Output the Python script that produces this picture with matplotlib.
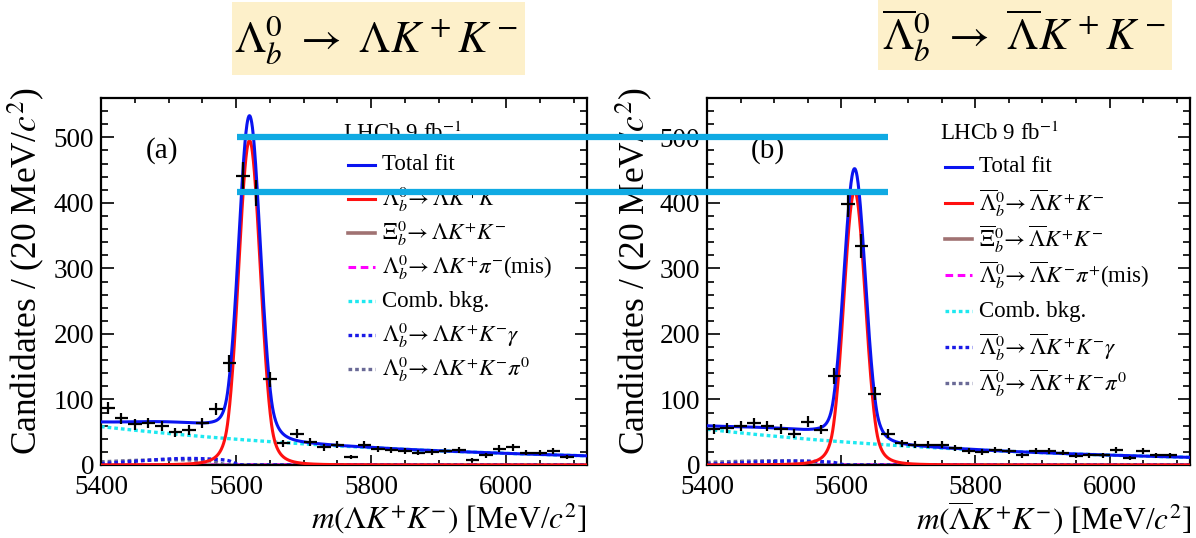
import math
import numpy as np
import matplotlib
matplotlib.use("Agg")
import matplotlib.pyplot as plt
from matplotlib.lines import Line2D
from matplotlib.patches import Rectangle
from matplotlib.ticker import MultipleLocator

plt.rcParams.update({
    "font.family": ["Liberation Serif", "DejaVu Serif"],
    "mathtext.fontset": "stix",
})

# ---------------------------------------------------------------- data
mass_bins = [5410, 5430, 5450, 5470, 5490, 5510, 5530, 5550, 5570, 5590,
             5610, 5630, 5650, 5670, 5690, 5710, 5730, 5750, 5770, 5790,
             5810, 5830, 5850, 5870, 5890, 5910, 5930, 5950, 5970, 5990,
             6010, 6030, 6050, 6070, 6090]
bin_half_width = 10

counts_lb = [87, 71, 62, 64, 59, 50, 53, 64, 86, 155,
             441, 415, 131, 33, 48, 35, 27, 31, 12, 31,
             24, 23, 22, 19, 20, 21, 23, 8, 15, 25,
             27, 19, 19, 21, 12]
counts_lbbar = [55, 57, 60, 64, 60, 55, 48, 66, 54, 136,
                399, 334, 109, 48, 33, 31, 31, 31, 26, 22,
                20, 23, 22, 15, 21, 21, 19, 14, 15, 15,
                23, 11, 21, 15, 15]

# fit components: signal (double-sided Crystal Ball), exponential combinatorial,
# partially reconstructed humps
signal_lb = dict(amp=495, mu=5620, sigma=16, alpha=2.0, n=3)
signal_lbbar = dict(amp=418, mu=5620, sigma=16, alpha=2.0, n=3)
xib_lb = dict(amp=0.4, mu=5795, sigma=16, alpha=2.0, n=3)
xib_lbbar = dict(amp=0.4, mu=5795, sigma=16, alpha=2.0, n=3)
comb_lb = dict(norm=58.6, slope=-0.00199)
comb_lbbar = dict(norm=54.5, slope=-0.00214)
gamma_lb = dict(amp=10.0, centre=5530, width=75, edge=5597, soft=9)
gamma_lbbar = dict(amp=6.0, centre=5530, width=75, edge=5597, soft=9)
pi0_lb = dict(amp=8.0, centre=5500, width=100, edge=5575, soft=12)
pi0_lbbar = dict(amp=6.5, centre=5500, width=100, edge=5575, soft=12)
mis_lb = dict(amp=0.6, centre=5700, width=50, edge=5800, soft=15)
mis_lbbar = dict(amp=0.6, centre=5700, width=50, edge=5800, soft=15)

x_range = (5400, 6120)
y_range = (0, 560)
guide_levels = [500, 417]

# ---------------------------------------------------------------- shapes
_erfc = np.vectorize(math.erfc)


def double_cb(m, amp, mu, sigma, alpha, n):
    t = (m - mu) / sigma
    out = np.exp(-0.5 * t * t)
    a = (n / alpha) ** n * np.exp(-0.5 * alpha * alpha)
    b = n / alpha - alpha
    lo = t < -alpha
    hi = t > alpha
    out[lo] = a * (b - t[lo]) ** (-n)
    out[hi] = a * (b + t[hi]) ** (-n)
    return amp * out


def exponential(m, norm, slope):
    return norm * np.exp(slope * (m - x_range[0]))


def hump(m, amp, centre, width, edge, soft):
    return amp * np.exp(-0.5 * ((m - centre) / width) ** 2) * 0.5 * _erfc((m - edge) / soft)


# ---------------------------------------------------------------- figure
W, H = 1196, 538
fig = plt.figure(figsize=(W / 100, H / 100), dpi=100)


def fx(px):
    return px / W


def fy(py):
    return 1 - py / H


BLUE = "#0a14f0"
RED = "#ff1010"
BROWN = "#a07272"
MAGENTA = "#ff00ff"
CYAN = "#1ee8f0"
DBLUE = "#1a1ae6"
SLATE = "#6a6a96"
DOT = (0, (1.1, 0.9))


def panel(left_px, right_px, counts, sig, xib, comb, gam, pi0, mis, tag, labels):
    ax = fig.add_axes([fx(left_px), fy(465), fx(right_px - left_px), fy(98) - fy(465)])
    m = np.linspace(x_range[0], x_range[1], 1500)
    c_sig = double_cb(m, **sig)
    c_xib = double_cb(m, **xib)
    c_comb = exponential(m, **comb)
    c_gam = hump(m, **gam)
    c_pi0 = hump(m, **pi0)
    c_mis = hump(m, **mis)
    total = c_sig + c_xib + c_comb + c_gam + c_pi0 + c_mis

    ax.plot(m, c_xib, color=BROWN, lw=2.2, zorder=2)
    ax.plot(m, c_mis, color=MAGENTA, lw=2.2, ls=(0, (2.5, 1.5)), zorder=2)
    ax.plot(m, c_pi0, color=SLATE, lw=2.4, ls=DOT, zorder=2)
    ax.plot(m, c_gam, color=DBLUE, lw=2.4, ls=DOT, zorder=2)
    ax.plot(m, c_comb, color=CYAN, lw=2.4, ls=DOT, zorder=2)
    ax.plot(m, c_sig, color=RED, lw=2.2, zorder=3)
    ax.plot(m, total, color=BLUE, lw=2.2, zorder=4)

    y = np.array(counts, dtype=float)
    ax.errorbar(mass_bins, y, yerr=np.sqrt(y), xerr=bin_half_width, fmt="none",
                ecolor="black", elinewidth=1.6, capsize=0, zorder=5)

    ax.set_xlim(*x_range)
    ax.set_ylim(*y_range)
    ax.xaxis.set_major_locator(MultipleLocator(200))
    ax.xaxis.set_minor_locator(MultipleLocator(50))
    ax.yaxis.set_major_locator(MultipleLocator(100))
    ax.yaxis.set_minor_locator(MultipleLocator(20))
    ax.tick_params(which="both", direction="in", top=True, right=True,
                   width=1.2, labelsize=19.5)
    ax.tick_params(axis="x", which="major", length=7.5, pad=7)
    ax.tick_params(axis="x", which="minor", length=3.8)
    ax.tick_params(axis="y", which="major", length=9, pad=5)
    ax.tick_params(axis="y", which="minor", length=5)
    for s in ax.spines.values():
        s.set_linewidth(1.6)

    # panel tag
    ax.text(0.125, 0.857, tag, transform=ax.transAxes, fontsize=21,
            ha="center", va="center")

    # legend, drawn entry by entry
    width = right_px - left_px

    def axx(px):
        return (px - left_px) / width

    def axy(py):
        return (465 - py) / 367

    handle_x0 = left_px + (247 if left_px < 600 else 238)
    handle_x1 = handle_x0 + 27
    text_x = handle_x1 + 7
    ax.text(axx(handle_x0 - 5), axy(133), "LHCb 9 fb$^{-1}$", transform=ax.transAxes,
            fontsize=16.5, ha="left", va="center")
    styles = [
        dict(color=BLUE, lw=2.2, ls="-"),
        dict(color=RED, lw=2.2, ls="-"),
        dict(color=BROWN, lw=2.6, ls="-"),
        dict(color=MAGENTA, lw=2.2, ls=(0, (2.5, 1.5))),
        dict(color=CYAN, lw=2.4, ls=DOT),
        dict(color=DBLUE, lw=2.4, ls=DOT),
        dict(color=SLATE, lw=2.4, ls=DOT),
    ]
    y0, step = (165, 34) if left_px < 600 else (167, 36)
    for i, (lab, st) in enumerate(zip(labels, styles)):
        yy = axy(y0 + i * step)
        ax.add_line(Line2D([axx(handle_x0), axx(handle_x1)], [yy, yy],
                           transform=ax.transAxes, **st))
        ax.text(axx(text_x), yy, lab, transform=ax.transAxes, fontsize=16.5,
                ha="left", va="center")
    return ax


labels_lb = [
    "Total fit",
    r"$\mathit{\Lambda}_b^0\!\rightarrow \mathit{\Lambda} K^{+}K^{-}$",
    r"$\mathit{\Xi}_b^0\!\rightarrow \mathit{\Lambda} K^{+}K^{-}$",
    r"$\mathit{\Lambda}_b^0\!\rightarrow \mathit{\Lambda} K^{+}\pi^{-}$(mis)",
    "Comb. bkg.",
    r"$\mathit{\Lambda}_b^0\!\rightarrow \mathit{\Lambda} K^{+}K^{-}\gamma$",
    r"$\mathit{\Lambda}_b^0\!\rightarrow \mathit{\Lambda} K^{+}K^{-}\pi^{0}$",
]
labels_lbbar = [
    "Total fit",
    r"$\overline{\mathit{\Lambda}}_b^0\!\rightarrow \overline{\mathit{\Lambda}} K^{+}K^{-}$",
    r"$\overline{\mathit{\Xi}}_b^0\!\rightarrow \overline{\mathit{\Lambda}} K^{+}K^{-}$",
    r"$\overline{\mathit{\Lambda}}_b^0\!\rightarrow \overline{\mathit{\Lambda}} K^{-}\pi^{+}$(mis)",
    "Comb. bkg.",
    r"$\overline{\mathit{\Lambda}}_b^0\!\rightarrow \overline{\mathit{\Lambda}} K^{+}K^{-}\gamma$",
    r"$\overline{\mathit{\Lambda}}_b^0\!\rightarrow \overline{\mathit{\Lambda}} K^{+}K^{-}\pi^{0}$",
]

ax_a = panel(101, 587, counts_lb, signal_lb, xib_lb, comb_lb, gamma_lb, pi0_lb, mis_lb,
             "(a)", labels_lb)
ax_b = panel(707, 1190, counts_lbbar, signal_lbbar, xib_lbbar, comb_lbbar, gamma_lbbar,
             pi0_lbbar, mis_lbbar, "(b)", labels_lbbar)

# axis titles
ylab = "Candidates / (20 MeV/$c^2$)"
fig.text(fx(27), fy(88), ylab, rotation=90, ha="center", va="top", fontsize=25.5)
fig.text(fx(635), fy(88), ylab, rotation=90, ha="center", va="top", fontsize=25.5)
fig.text(fx(587), fy(518), r"$m(\mathit{\Lambda} K^{+}K^{-})$ [MeV/$c^2$]",
         ha="right", va="center", fontsize=22.5)
fig.text(fx(1192), fy(518), r"$m(\overline{\mathit{\Lambda}} K^{+}K^{-})$ [MeV/$c^2$]",
         ha="right", va="center", fontsize=22.5)

# decay-mode headings on shaded boxes
BOX = "#fdf0ca"
fig.add_artist(Rectangle((fx(232), fy(75)), fx(293), fy(2) - fy(75),
                         facecolor=BOX, edgecolor="none", zorder=0))
fig.add_artist(Rectangle((fx(878), fy(70)), fx(294), fy(0) - fy(70),
                         facecolor=BOX, edgecolor="none", zorder=0))
fig.text(fx(376), fy(40), r"$\Lambda_b^0\ \rightarrow\ \Lambda K^+K^-$",
         ha="center", va="center", fontsize=32)
fig.text(fx(1024), fy(36), r"$\overline{\Lambda}_b^0\ \rightarrow\ \overline{\Lambda} K^+K^-$",
         ha="center", va="center", fontsize=32)

# horizontal guide lines at the peak levels, spanning both panels
for level in guide_levels:
    fig.add_artist(Line2D([5601, 6566], [level, level], transform=ax_a.transData,
                          color="#10aae3", lw=4.5, solid_capstyle="butt", zorder=10))

fig.savefig("out.png", dpi=100)
